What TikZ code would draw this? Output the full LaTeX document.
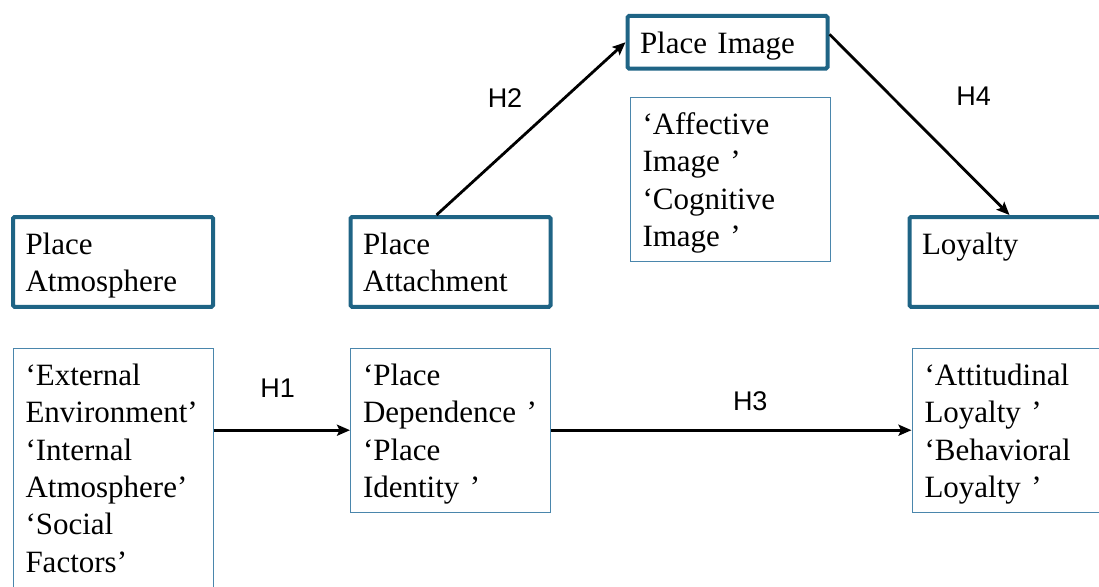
\documentclass[tikz,border=0pt]{standalone}
\usepackage{fontspec}
\setmainfont{Liberation Serif}
\newfontfamily\hypfont{Liberation Sans}
\usepackage{xcolor}
\usepackage{tikz}
\usetikzlibrary{arrows.meta}
\definecolor{boxblue}{HTML}{1F6485}
\definecolor{itemblue}{HTML}{4A86AC}
\tikzset{
  box/.style={anchor=north west,align=left,text width=175pt,inner xsep=12.5pt,inner ysep=6pt,
    font=\fontsize{31pt}{37.3pt}\selectfont,
    execute at begin node={\rule{0pt}{31.5pt}},execute at end node={\rule[-9pt]{0pt}{9pt}}},
  construct/.style={box,draw=boxblue,line width=4pt,rounded corners=1.5pt},
  items/.style={box,draw=itemblue,line width=1pt},
  hyp/.style={-{Stealth[length=13pt,width=11pt,inset=2.5pt]},line width=2.8pt},
  hyplabel/.style={font=\hypfont\fontsize{27pt}{30pt}\selectfont,inner sep=0pt}
}
\begin{document}
\begin{tikzpicture}[x=1pt,y=-1pt]
        \useasboundingbox (0,0) rectangle (1099,586);
        \clip (0,0) rectangle (1099,586);
        \node[construct] (atm) at (11,215) {Place\\Atmosphere};
        \node[construct] (att) at (348.5,215) {Place\\Attachment};
        \node[construct] (img) at (625.5,14) {Place Image};
        \node[construct] (loy) at (907.5,215) {Loyalty\\\mbox{}};
        \node[items] (atmItems) at (12.5,347.5) {‘External\\Environment’\\‘Internal\\Atmosphere’\\‘Social\\Factors’};
        \node[items] (attItems) at (350,347.5) {‘Place\\Dependence ’\\‘Place\\Identity ’};
        \node[items] (imgItems) at (629.5,96.5) {‘Affective\\Image ’\\‘Cognitive\\Image ’};
        \node[items] (loyItems) at (911.5,347.5) {‘Attitudinal\\Loyalty ’\\‘Behavioral\\Loyalty ’};
        \draw[hyp] (atmItems.east |- attItems.west) -- (attItems.west) node[hyplabel,midway,above=31pt,xshift=-4pt] {H1};
        \draw[hyp] ([xshift=-14pt]att.north) -- (img.west) node[hyplabel,midway,xshift=-26pt,yshift=31pt] {H2};
        \draw[hyp] (attItems.east) -- (loyItems.west) node[hyplabel,midway,above=18pt,xshift=19pt] {H3};
        \draw[hyp] ([yshift=8pt]img.east) -- (loy.north) node[hyplabel,midway,xshift=54pt,yshift=28pt] {H4};
      \end{tikzpicture}
\end{document}
